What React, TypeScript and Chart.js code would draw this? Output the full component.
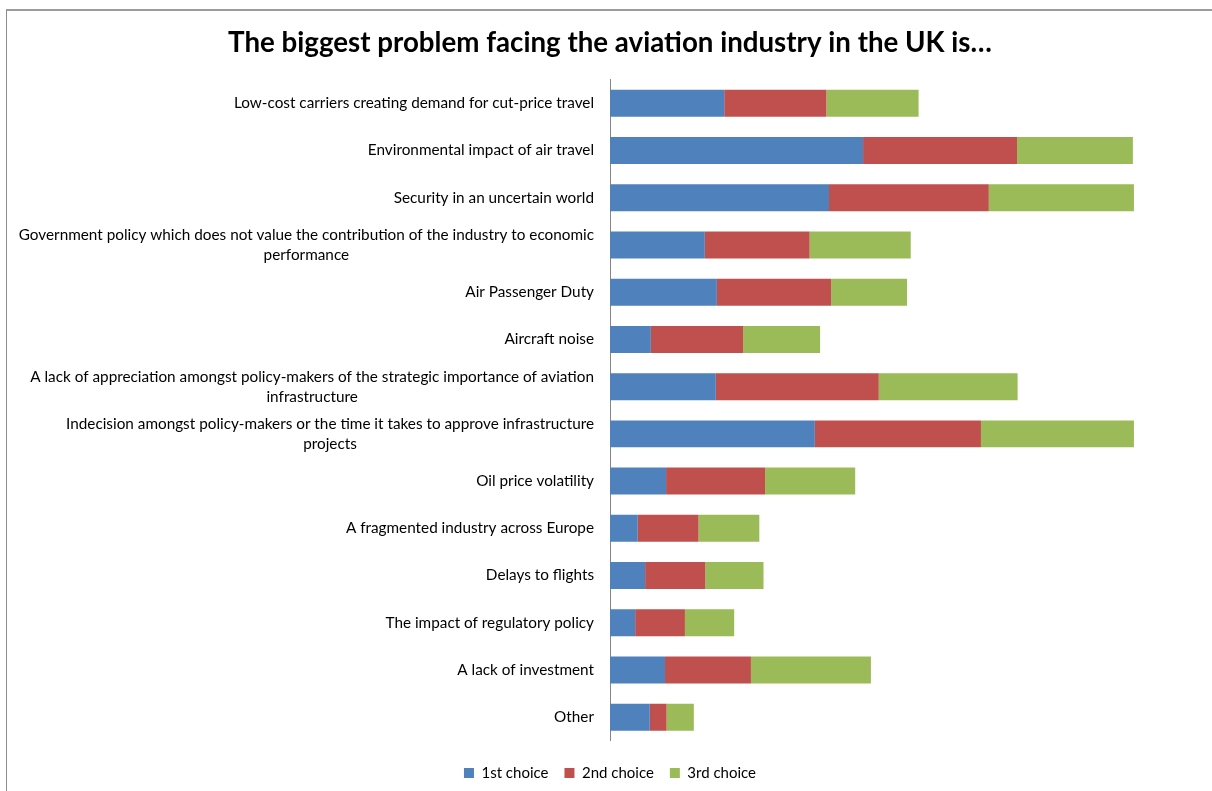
import React, { useEffect, useRef } from "react";
import { Chart, registerables } from "chart.js";

Chart.register(...registerables);

const FONT = "Lato";

const titleText = "The biggest problem facing the aviation industry in the UK is…";

const categories: (string | string[])[] = [
  "Low-cost carriers creating demand for cut-price travel",
  "Environmental impact of air travel",
  "Security in an uncertain world",
  ["Government policy which does not value the contribution of the industry to economic", "performance"],
  "Air Passenger Duty",
  "Aircraft noise",
  ["A lack of appreciation amongst policy-makers of the strategic importance of aviation", "infrastructure"],
  ["Indecision amongst policy-makers or the time it takes to approve infrastructure", "projects"],
  "Oil price volatility",
  "A fragmented industry across Europe",
  "Delays to flights",
  "The impact of regulatory policy",
  "A lack of investment",
  "Other",
];

const seriesNames = ["1st choice", "2nd choice", "3rd choice"];

const firstChoice = [21.8, 48.3, 41.8, 18.1, 20.4, 7.8, 20.2, 39.1, 10.7, 5.3, 6.7, 4.8, 10.5, 7.6];
const secondChoice = [19.5, 29.4, 30.5, 20.0, 21.8, 17.6, 31.1, 31.7, 18.9, 11.6, 11.5, 9.5, 16.4, 3.2];
const thirdChoice = [17.6, 22.1, 27.7, 19.3, 14.5, 14.7, 26.5, 29.2, 17.2, 11.6, 11.1, 9.4, 22.9, 5.2];

const colors = ["#4F81BD", "#C0504D", "#9BBB59"];

const categoryLabelPlugin = {
  id: "categoryLabels",
  afterDraw(chart: any) {
    const { ctx, scales } = chart;
    const y = scales.y;
    const axisX = chart.chartArea.left;
    ctx.save();
    ctx.font = `15.3px ${FONT}`;
    ctx.fillStyle = "#000000";
    ctx.textBaseline = "middle";
    ctx.textAlign = "center";
    categories.forEach((lab, i) => {
      const lines = Array.isArray(lab) ? lab : [lab];
      const maxW = Math.max(...lines.map((l) => ctx.measureText(l).width));
      const cx = axisX - 16 - maxW / 2;
      const cy = y.getPixelForValue(i);
      const lh = 20;
      lines.forEach((l, k) => {
        ctx.fillText(l, cx, cy + (k - (lines.length - 1) / 2) * lh);
      });
    });
    ctx.restore();
  },
};

export default function App() {
  const canvasRef = useRef<HTMLCanvasElement | null>(null);

  useEffect(() => {
    if (!canvasRef.current) return;
    const data = [firstChoice, secondChoice, thirdChoice];
    const chart = new Chart(canvasRef.current, {
      type: "bar",
      data: {
        labels: categories.map((c) => (Array.isArray(c) ? c.join(" ") : c)),
        datasets: seriesNames.map((name, i) => ({
          label: name,
          data: data[i],
          backgroundColor: colors[i],
          borderWidth: 0,
          categoryPercentage: 1,
          barPercentage: 0.571,
        })),
      },
      options: {
        indexAxis: "y",
        animation: false,
        responsive: true,
        maintainAspectRatio: false,
        layout: { padding: { left: 0, right: 0, top: 0, bottom: 0.5 } },
        scales: {
          x: {
            stacked: true,
            min: 0,
            max: 114.9,
            display: true,
            grid: { display: false },
            border: { display: false },
            ticks: { display: false },
            afterFit: (s: any) => {
              s.height = 8.7;
            },
          },
          y: {
            stacked: true,
            grid: { display: false },
            border: { display: true, color: "#868686", width: 1 },
            ticks: { display: false },
            afterFit: (s: any) => {
              s.width = 602;
            },
          },
        },
        plugins: {
          title: {
            display: true,
            text: titleText,
            color: "#000000",
            font: { family: FONT, size: 27.7, weight: "bold" },
            padding: { top: 18.5, bottom: 20 },
          },
          legend: {
            display: true,
            position: "bottom",
            labels: {
              boxWidth: 10,
              boxHeight: 10,
              padding: 16,
              color: "#000000",
              font: { family: FONT, size: 15 },
            },
          },
          tooltip: { enabled: false },
        },
      },
      plugins: [categoryLabelPlugin],
    });
    return () => chart.destroy();
  }, []);

  return (
    <div>
      <div
        style={{
          position: "fixed",
          left: 6,
          top: 9,
          right: -20,
          bottom: -20,
          borderLeft: "1px solid #8c8c8c",
          borderTop: "2px solid #9c9c9c",
          pointerEvents: "none",
        }}
      />
      <div style={{ position: "relative", width: 1204, height: 783 }}>
        <canvas ref={canvasRef} />
      </div>
    </div>
  );
}
